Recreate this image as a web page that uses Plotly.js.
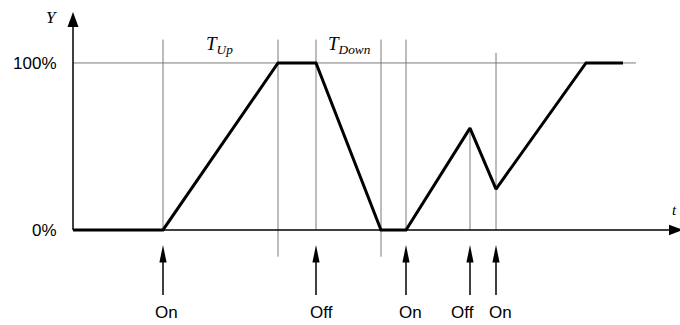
<!DOCTYPE html>
<html><head><meta charset="utf-8">
<script src="https://cdn.plot.ly/plotly-3.0.1.min.js"></script>
<style>html,body{margin:0;padding:0;background:#fff}</style>
</head><body><div id="chart" style="width:680px;height:325px"></div>
<script>
// Output level over time (time in arbitrary units, level in %)
const timePts = [0, 9, 20.5, 24.3, 30.8, 33.3, 39.7, 42.3, 51.3, 55.0];
const levelPts = [0, 0, 100, 100, 0, 0, 61, 24.5, 100, 100];
// Command events
const eventTimes = [9, 24.3, 33.3, 39.7, 42.3];
const eventLabels = ['On', 'Off', 'On', 'Off', 'On'];
// Guide lines: time, top level, bottom level
const guideTimes = [9, 20.5, 24.3, 30.8, 33.3, 39.7, 42.3];
const guideTops = [114, 114, 114, 114, 114, 61, 106];
const guideBottoms = [0, -16, 0, -16, 0, 0, 0];
// Y ticks
const yTickVals = [0, 100];
const yTickText = ['0%', '100%'];
// Interval labels
const intervalLabels = ['T<sub>Up</sub>', 'T<sub>Down</sub>'];
const intervalCenters = [14.6, 27.6];

// label pixel nudges (style only)
const eventLabelShift = [3, 5, 4, -8, 4];

const shapes = [];
guideTimes.forEach((g, i) => shapes.push({type:'line', xref:'x', yref:'y', x0:g, x1:g, y0:guideBottoms[i], y1:guideTops[i], line:{color:'#7a7a7a', width:1}, layer:'below'}));
shapes.push({type:'line', xref:'x', yref:'y', x0:0, x1:56.3, y0:100, y1:100, line:{color:'#7a7a7a', width:1}, layer:'below'});
// axes
shapes.push({type:'line', xref:'x', yref:'y', x0:0, x1:60, y0:0, y1:0, line:{color:'#000', width:1.5}});
shapes.push({type:'line', xref:'x', yref:'y', x0:0, x1:0, y0:0, y1:122, line:{color:'#000', width:1.5}});
shapes.push({type:'path', xref:'x', yref:'y', path:'M -0.55,121.5 L 0,130.5 L 0.55,121.5 Z', fillcolor:'#000', line:{color:'#000', width:0}});
shapes.push({type:'path', xref:'x', yref:'y', path:'M 59.6,3.2 L 61.0,0 L 59.6,-3.2 Z', fillcolor:'#000', line:{color:'#000', width:0}});
// event arrows
eventTimes.forEach(e => {
  shapes.push({type:'line', xref:'x', yref:'y', x0:e, x1:e, y0:-39, y1:-18, line:{color:'#000', width:1.5}});
  shapes.push({type:'path', xref:'x', yref:'y', path:`M ${e-0.36},-19.5 L ${e},-9 L ${e+0.36},-19.5 Z`, fillcolor:'#000', line:{color:'#000', width:0}});
});

const annotations = [];
eventTimes.forEach((e, i) => annotations.push({x:e, y:-49.5, xref:'x', yref:'y', xshift:eventLabelShift[i], text:eventLabels[i], showarrow:false, font:{family:'Liberation Sans, Arial', size:17, color:'#000'}}));
intervalLabels.forEach((l, i) => annotations.push({x:intervalCenters[i], y:111, xref:'x', yref:'y', text:'<i>'+l+'</i>', showarrow:false, font:{family:'Liberation Serif, Times New Roman', size:19, color:'#000'}}));
annotations.push({x:-2.2, y:127.5, xref:'x', yref:'y', text:'<i>Y</i>', showarrow:false, font:{family:'Liberation Serif, Times New Roman', size:17, color:'#000'}});
annotations.push({x:60.6, y:12, xref:'x', yref:'y', xanchor:'right', text:'<i>t</i>', showarrow:false, font:{family:'Liberation Serif, Times New Roman', size:15, color:'#000'}});

Plotly.newPlot('chart', [{
  x: timePts, y: levelPts, type:'scatter', mode:'lines',
  line:{color:'#000', width:3}, hoverinfo:'skip'
}], {
  width:680, height:325, margin:{l:0, r:0, t:0, b:0},
  paper_bgcolor:'#fff', plot_bgcolor:'#fff', showlegend:false,
  xaxis:{range:[-7.3, 60.7], visible:false, fixedrange:true},
  yaxis:{range:[-56.9, 137.7], anchor:'free', position:0.10735, side:'left',
    tickvals:yTickVals, ticktext:yTickText, showgrid:false, zeroline:false, showline:false,
    ticks:'outside', ticklen:13, tickcolor:'rgba(0,0,0,0)',
    tickfont:{family:'Liberation Sans, Arial', size:17, color:'#000'}, fixedrange:true},
  shapes, annotations
}, {staticPlot:true});
</script></body></html>
